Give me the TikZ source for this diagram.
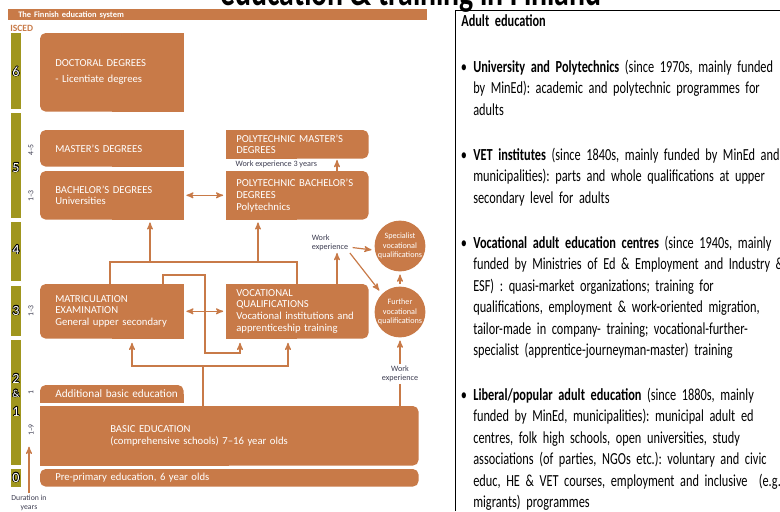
\documentclass[tikz,border=0pt]{standalone}
\usepackage{fontspec}
\setmainfont{Carlito}
\newfontfamily\adultfont[FakeStretch=0.73]{Carlito}
\usepackage{contour}
\contourlength{0.35pt}
\usetikzlibrary{arrows,backgrounds}
\definecolor{boxorange}{HTML}{C87A48}
\definecolor{iscedbar}{HTML}{A0961E}
\definecolor{darktext}{HTML}{3C3C50}
\newcommand{\boxfont}{\fontsize{7.6}{8.4}\selectfont}

\begin{document}
\begin{tikzpicture}[x=0.25cm,y=-0.25cm]
\tikzstyle{box}=[rectangle,anchor=north west,inner ysep=0pt,text=white,align=left,font=\boxfont]
\tikzstyle{lbox}=[box,inner xsep=0.375cm,text width=2.825cm]
\tikzstyle{rbox}=[box,inner xsep=0.25cm,text width=3.05cm]
\tikzstyle{circ}=[circle,fill=boxorange,minimum size=1.25cm,inner sep=0pt,text=white,align=center,font=\fontsize{5.8}{6.6}\selectfont]
\tikzstyle{work}=[text=darktext,inner sep=1pt,font=\fontsize{5.8}{6.8}\selectfont]
\tikzstyle{lvl}=[text=white,inner sep=0pt,font=\fontsize{10}{11}\selectfont]
\tikzstyle{dur}=[rotate=90,text=darktext,inner sep=0.5pt,font=\fontsize{5.5}{6}\selectfont]
\tikzstyle{conn}=[draw=boxorange,line width=0.85pt]
\tikzstyle{arr}=[conn,->,>=stealth']
\tikzstyle{adult}=[anchor=base west,inner sep=0pt,text width=9cm,align=left,font=\adultfont\fontsize{12}{15.35}\selectfont\frenchspacing]
\clip (0,0) rectangle (78,51.1);

% heading
\node[anchor=base,inner sep=0pt,font=\adultfont\fontsize{29}{30}\selectfont\bfseries] (title) at (41.1,0.5) {education \& training in Finland};
\node[anchor=north west,fill=boxorange,minimum height=0.275cm,inner xsep=0.25cm,inner ysep=0pt,text width=9.975cm,align=left,text=white,font=\fontsize{6}{7}\selectfont\bfseries] (hdr) at (0.8,0.9) {The Finnish education system};
\node[anchor=west,inner sep=0pt,text=boxorange,font=\fontsize{6.8}{8}\selectfont\bfseries] (isced) at (1.0,2.8) {ISCED};

% ISCED levels
\foreach \a/\b in {3.3/10.9,11.3/21.8,22.2/28.1,28.6/33.6,34.0/46.5,46.9/48.7}
  \fill[iscedbar] (1.1,\a) rectangle (2.1,\b);
\node[lvl] (l6) at (1.6,7.2) {\contour{black}{6}};
\node[lvl] (l5) at (1.6,16.8) {\contour{black}{5}};
\node[lvl] (l4) at (1.6,25.0) {\contour{black}{4}};
\node[lvl] (l3) at (1.6,31.1) {\contour{black}{3}};
\node[lvl] (l2) at (1.6,37.9) {\contour{black}{2}};
\node[lvl,font=\fontsize{7.5}{8}\selectfont] (land) at (1.6,39.4) {\contour{black}{\&}};
\node[lvl] (l1) at (1.6,41.2) {\contour{black}{1}};
\node[lvl] (l0) at (1.6,47.8) {\contour{black}{0}};

% durations
\node[dur] (d1) at (3.1,15.0) {4–5};
\node[dur] (d2) at (3.1,19.6) {1–3};
\node[dur] (d3) at (3.1,31.1) {1–3};
\node[dur] (d4) at (3.1,39.3) {1};
\node[dur] (d5) at (3.1,43.0) {1–9};
\node[work,anchor=north,align=center,font=\fontsize{5.5}{6.8}\selectfont] (durtxt) at (2.9,49.3) {Duration in\\years};
\draw[arr,shorten >=7pt] (durtxt.north) -- (durtxt.north |- d5.west);

% boxes
\node[lbox,minimum height=1.95cm] (1) at (4.0,3.3) {DOCTORAL DEGREES\\[3pt]- Licentiate degrees};
\node[lbox,minimum height=0.9cm] (2) at (4.0,13.0) {MASTER'S DEGREES};
\node[lbox,minimum height=1.2cm] (3) at (4.0,17.1) {BACHELOR'S DEGREES\\Universities};
\node[rbox,minimum height=0.7cm] (4) at (22.6,13.0) {POLYTECHNIC MASTER'S\\DEGREES};
\node[rbox,minimum height=1.2cm] (5) at (22.6,17.1) {POLYTECHNIC BACHELOR'S\\DEGREES\\Polytechnics};
\node[lbox,minimum height=1.35cm] (6) at (4.0,28.4) {MATRICULATION\\EXAMINATION\\General upper secondary};
\node[rbox,minimum height=1.35cm] (7) at (22.6,28.4) {VOCATIONAL\\QUALIFICATIONS\\Vocational institutions and\\apprenticeship training};
\node[lbox,minimum height=0.425cm] (8) at (4.0,38.5) {\rlap{\fontsize{8}{9}\selectfont Additional basic education}};
\node[box,inner xsep=1.75cm,text width=5.95cm,minimum height=1.475cm] (9) at (4.0,40.6) {BASIC EDUCATION\\(comprehensive schools) 7–16 year olds};
\node[box,inner xsep=0.375cm,text width=8.7cm,minimum height=0.425cm] (10) at (4.0,46.9) {Pre-primary education, 6 year olds};
\node[circ] (11) at (40.0,24.6) {Specialist\\vocational\\qualifications};
\node[circ] (12) at (40.0,31.2) {Further\\vocational\\qualifications};

\begin{scope}[on background layer]
\foreach \n in {1,...,10}
  \fill[boxorange,rounded corners=4pt] (\n.north west) rectangle (\n.south east);
\foreach \n in {1,2,3,6}
  \fill[boxorange] (\n.north) rectangle (\n.south east);
\foreach \n in {4,5,7,9}
  \fill[boxorange] (\n.north west) rectangle (\n.south);
\fill[boxorange] (8.west) rectangle (8.south east);
\end{scope}

% work experience
\node[work,anchor=west] (w1) at (23.4,16.4) {Work experience 3 years};
\node[work,align=left] (w2) at (33.0,24.3) {Work\\experience};
\node[work,align=center] (w3) at (40.0,37.4) {Work\\experience};

% connectors
\coordinate (a1) at (11.0,26.2);
\coordinate (a2) at (29.7,26.2);
\coordinate (a3) at (15.0,26.2);
\coordinate (a4) at (25.8,26.2);
\draw[conn] (a1 |- 6.north) -- (a1) -- (a2) -- (a2 |- 7.north);
\draw[arr,shorten >=2pt] (a3) -- (a3 |- 3.south);
\draw[arr,shorten >=2pt] (a4) -- (a4 |- 5.south);

\coordinate (b1) at (16.3,27.5);
\coordinate (b2) at (20.5,27.5);
\coordinate (b3) at (20.5,35.3);
\coordinate (b4) at (24.0,35.3);
\draw[arr,shorten >=3pt] (b1 |- 6.north) -- (b1) -- (b2) -- (b3) -- (b4) -- (b4 |- 7.south);

\coordinate (c0) at (20.3,36.6);
\coordinate (c1) at (13.2,36.6);
\coordinate (c2) at (28.8,36.6);
\draw[conn] (c0 |- 9.north) -- (c0);
\draw[arr,shorten >=3pt] (c0) -- (c1) -- (c1 |- 6.south);
\draw[arr,shorten >=3pt] (c0) -- (c2) -- (c2 |- 7.south);

\draw[arr,<->,shorten <=2pt,shorten >=2pt] (3.east) -- (5.west);
\draw[arr,<->,shorten <=2pt,shorten >=2pt] (6.east) -- (7.west);

\coordinate (d0) at (33.7,0);
\draw[arr,shorten >=1pt] (d0 |- 5.north) -- (d0 |- 4.south);
\draw[arr] (d0 |- 7.north) -- (d0 |- w2.south);
\draw[arr,shorten <=2pt,shorten >=2pt] ([yshift=-3pt]w2.east) -- ([yshift=-3pt]11.west);
\draw[arr,shorten >=3pt] (w2.south east) -- (12.north west);
\draw[arr,shorten <=2pt,shorten >=2pt] (12.north) -- (11.south);
\draw[arr,shorten >=2pt] (w3.north) -- (12.south);
\draw[conn] (w3.south) -- (w3 |- 9.north);

% adult education text
\draw[line width=0.5pt] (45.5,51.1) -- (45.5,1.0) -- (78,1.0);
\node[adult] (ae) at (46.1,2.6) {\textbf{Adult education}};
\node[adult] (b1) at (47.3,7.2) {\llap{\textbullet\hspace{4.5pt}}\textbf{University and Polytechnics} (since 1970s, mainly funded\\by MinEd): academic and polytechnic programmes for\\adults};
\node[adult] (b2) at (47.3,16.0) {\llap{\textbullet\hspace{4.5pt}}\textbf{VET institutes} (since 1840s, mainly funded by MinEd and\\municipalities): parts and whole qualifications at upper\\secondary level for adults};
\node[adult] (b3) at (47.3,24.8) {\llap{\textbullet\hspace{4.5pt}}\textbf{Vocational adult education centres} (since 1940s, mainly\\funded by Ministries of Ed \& Employment and Industry \&\\ESF) : quasi-market organizations; training for\\qualifications, employment \& work-oriented migration,\\tailor-made in company- training; vocational-further-\\specialist (apprentice-journeyman-master) training};
\node[adult] (b4) at (47.3,40.0) {\llap{\textbullet\hspace{4.5pt}}\textbf{Liberal/popular adult education} (since 1880s, mainly\\funded by MinEd, municipalities): municipal adult ed\\centres, folk high schools, open universities, study\\associations (of parties, NGOs etc.): voluntary and civic\\educ, HE \& VET courses, employment and inclusive~ (e.g.\\migrants) programmes};
\end{tikzpicture}
\end{document}
